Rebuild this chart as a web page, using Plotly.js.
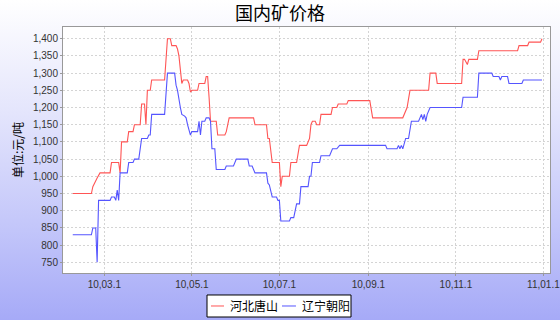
<!DOCTYPE html>
<html>
<head>
<meta charset="utf-8">
<script src="https://cdn.plot.ly/plotly-3.0.1.min.js"></script>
<style>
html,body{margin:0;padding:0;}
body{width:560px;height:320px;background:linear-gradient(to bottom,#ffffff 0%,#e4e5fc 35%,#c4c7fa 70%,#a6aaf7 100%);}
#chart{width:560px;height:320px;}
</style>
</head>
<body>
<div id="chart"></div>
<script>
var chartTitle = "国内矿价格";
var yTitle = "单位:元/吨";
var seriesNames = ["河北唐山", "辽宁朝阳"];
var seriesColors = ["#ff5555", "#5555ff"];

var tangshanDates = ["2010-02-07","2010-02-20","2010-02-21","2010-02-23","2010-02-24","2010-02-26","2010-03-05","2010-03-06","2010-03-11","2010-03-12","2010-03-13","2010-03-17","2010-03-18","2010-03-21","2010-03-22","2010-03-26","2010-03-27","2010-03-29","2010-03-30","2010-03-31","2010-04-02","2010-04-03","2010-04-12","2010-04-14","2010-04-16","2010-04-17","2010-04-20","2010-04-21","2010-04-22","2010-04-23","2010-04-24","2010-04-25","2010-04-28","2010-04-29","2010-04-30","2010-05-01","2010-05-05","2010-05-06","2010-05-10","2010-05-11","2010-05-12","2010-05-13","2010-05-14","2010-05-18","2010-05-19","2010-05-24","2010-05-25","2010-05-27","2010-06-13","2010-06-14","2010-06-22","2010-06-23","2010-06-24","2010-06-26","2010-07-01","2010-07-02","2010-07-03","2010-07-08","2010-07-09","2010-07-13","2010-07-14","2010-07-15","2010-07-20","2010-07-21","2010-07-22","2010-07-23","2010-07-24","2010-07-26","2010-07-27","2010-07-29","2010-07-30","2010-08-06","2010-08-07","2010-08-10","2010-08-11","2010-08-17","2010-08-18","2010-09-02","2010-09-04","2010-09-25","2010-09-26","2010-09-28","2010-09-30","2010-10-13","2010-10-14","2010-10-18","2010-10-19","2010-11-05","2010-11-06","2010-11-07","2010-11-09","2010-11-10","2010-11-16","2010-11-17","2010-12-14","2010-12-15","2010-12-21","2010-12-22","2010-12-30","2010-12-31"];
var tangshanValues = [950,950,970,990,995,1010,1010,1040,1040,1010,1100,1100,1130,1130,1150,1150,1210,1210,1150,1250,1250,1280,1280,1400,1400,1380,1380,1370,1350,1310,1270,1280,1280,1270,1245,1250,1250,1270,1270,1290,1290,1230,1160,1160,1120,1120,1130,1170,1170,1150,1150,1110,1110,1040,1040,970,1000,1000,1040,1040,1060,1090,1090,1100,1110,1150,1160,1160,1150,1150,1180,1180,1200,1200,1210,1210,1220,1220,1170,1170,1180,1200,1250,1250,1300,1300,1270,1270,1340,1340,1325,1340,1340,1365,1365,1380,1380,1390,1390,1400];

var chaoyangDates = ["2010-02-07","2010-02-20","2010-02-21","2010-02-23","2010-02-24","2010-02-25","2010-03-05","2010-03-06","2010-03-08","2010-03-09","2010-03-10","2010-03-11","2010-03-12","2010-03-17","2010-03-18","2010-03-21","2010-03-22","2010-03-25","2010-03-27","2010-03-31","2010-04-01","2010-04-02","2010-04-03","2010-04-12","2010-04-14","2010-04-19","2010-04-20","2010-04-21","2010-04-23","2010-04-24","2010-04-26","2010-04-27","2010-04-28","2010-04-30","2010-05-01","2010-05-05","2010-05-06","2010-05-07","2010-05-08","2010-05-10","2010-05-11","2010-05-13","2010-05-14","2010-05-15","2010-05-17","2010-05-18","2010-05-24","2010-05-25","2010-05-30","2010-06-01","2010-06-09","2010-06-10","2010-06-12","2010-06-14","2010-06-22","2010-06-23","2010-06-24","2010-06-26","2010-06-29","2010-06-30","2010-07-01","2010-07-02","2010-07-08","2010-07-09","2010-07-11","2010-07-13","2010-07-15","2010-07-16","2010-07-21","2010-07-22","2010-07-23","2010-07-24","2010-07-29","2010-07-30","2010-08-05","2010-08-07","2010-08-10","2010-08-12","2010-09-13","2010-09-14","2010-09-21","2010-09-22","2010-09-23","2010-09-24","2010-09-25","2010-09-27","2010-09-29","2010-10-01","2010-10-06","2010-10-08","2010-10-09","2010-10-10","2010-10-11","2010-10-12","2010-10-14","2010-11-05","2010-11-06","2010-11-16","2010-11-17","2010-11-26","2010-11-27","2010-12-01","2010-12-02","2010-12-03","2010-12-07","2010-12-08","2010-12-17","2010-12-18","2010-12-31"];
var chaoyangValues = [830,830,850,850,750,930,930,940,940,930,960,930,1010,1010,1040,1040,1050,1050,1110,1110,1120,1120,1180,1180,1300,1300,1265,1250,1200,1180,1175,1170,1150,1120,1130,1130,1160,1120,1160,1160,1170,1170,1160,1080,1080,1020,1020,1030,1030,1050,1050,1030,1030,1010,1010,980,975,940,940,930,930,870,870,880,880,920,920,970,970,1000,1000,1040,1040,1060,1060,1080,1080,1090,1090,1080,1080,1090,1080,1090,1080,1110,1110,1160,1160,1180,1165,1180,1160,1180,1200,1200,1230,1230,1300,1300,1290,1290,1280,1290,1290,1270,1270,1280,1280];

var tickDates = ["2010-03-01","2010-05-01","2010-07-01","2010-09-01","2010-11-01","2011-01-01"];
var tickLabels = ["10,03.1","10,05.1","10,07.1","10,09.1","10,11.1","11,01.1"];

var traces = [
  {x: tangshanDates, y: tangshanValues, name: seriesNames[0], type: "scatter", mode: "lines",
   line: {color: seriesColors[0], width: 1.1}, showlegend: false},
  {x: chaoyangDates, y: chaoyangValues, name: seriesNames[1], type: "scatter", mode: "lines",
   line: {color: seriesColors[1], width: 1.1}, showlegend: false}
];

// legend box drawn below the plot (paper coordinates of the plot area)
var legY = -0.1341;
var shapes = [
  {type: "rect", xref: "paper", yref: "paper", x0: 0.2957, x1: 0.5914, y0: -0.0894, y1: -0.1789,
   line: {color: "#000000", width: 1}, fillcolor: "#ffffff", layer: "above"},
  {type: "line", xref: "paper", yref: "paper", x0: 0.3039, x1: 0.3306, y0: legY, y1: legY,
   line: {color: seriesColors[0], width: 1}},
  {type: "line", xref: "paper", yref: "paper", x0: 0.4497, x1: 0.4784, y0: legY, y1: legY,
   line: {color: seriesColors[1], width: 1}}
];
var legFont = {family: "Noto Sans CJK SC, sans-serif", size: 12, color: "#000000"};
var annotations = [
  {text: seriesNames[0], xref: "paper", yref: "paper", x: 0.3388, y: legY, xanchor: "left", yanchor: "middle",
   showarrow: false, font: legFont},
  {text: seriesNames[1], xref: "paper", yref: "paper", x: 0.4867, y: legY, xanchor: "left", yanchor: "middle",
   showarrow: false, font: legFont}
];

var layout = {
  width: 560, height: 320,
  margin: {l: 63, r: 10, t: 27, b: 47},
  paper_bgcolor: "rgba(0,0,0,0)",
  plot_bgcolor: "#ffffff",
  font: {family: "Liberation Sans, Arial, sans-serif", size: 10, color: "#333333"},
  title: {text: chartTitle, x: 0.5, xanchor: "center", y: 0.958, yanchor: "middle",
          font: {family: "Noto Sans CJK SC, sans-serif", size: 18, color: "#000000"}},
  showlegend: false,
  shapes: shapes,
  annotations: annotations,
  xaxis: {type: "date", range: ["2010-01-31 05:00", "2011-01-05 14:00"],
          tickvals: tickDates, ticktext: tickLabels, ticklabeloverflow: "allow",
          showgrid: true, gridcolor: "#d4d4d4", griddash: "2px,2px", gridwidth: 1,
          showline: true, linecolor: "#999999", linewidth: 1, mirror: true,
          ticks: "outside", ticklen: 2, tickcolor: "#999999",
          tickfont: {family: "Liberation Sans, Arial, sans-serif", size: 10, color: "#333333"},
          zeroline: false, fixedrange: true, automargin: false},
  yaxis: {range: [719, 1434], dtick: 50, tick0: 0, tickformat: ",d",
          showgrid: true, gridcolor: "#d4d4d4", griddash: "2px,2px", gridwidth: 1,
          showline: true, linecolor: "#999999", linewidth: 1, mirror: true,
          ticks: "outside", ticklen: 2, tickcolor: "#999999",
          tickfont: {family: "Liberation Sans, Arial, sans-serif", size: 10, color: "#333333"},
          title: {text: yTitle, standoff: 6, font: {family: "Noto Sans CJK SC, sans-serif", size: 12, color: "#000000"}},
          zeroline: false, fixedrange: true, automargin: false}
};

Plotly.newPlot("chart", traces, layout, {displayModeBar: false, staticPlot: true});
</script>
</body>
</html>
